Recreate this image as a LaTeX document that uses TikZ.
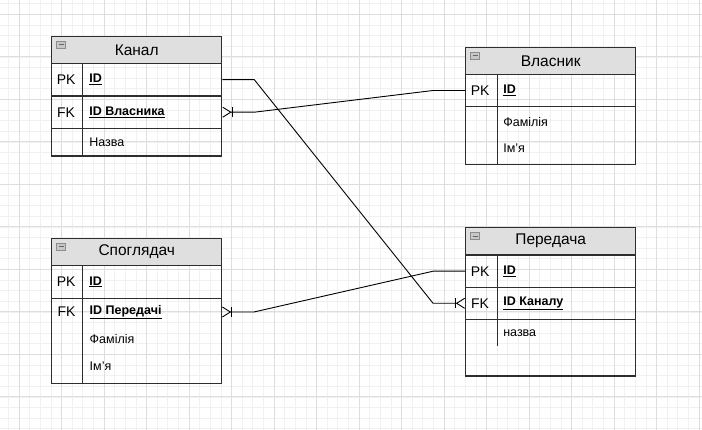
\documentclass[tikz,border=0pt]{standalone}
\usepackage{fontspec}
\setmainfont{Liberation Sans}
\usetikzlibrary{arrows.meta}

\definecolor{gridminor}{HTML}{F1F1F1}
\definecolor{gridmajor}{HTML}{DEDEDE}
\definecolor{headgray}{HTML}{DFDFDF}
\definecolor{framegray}{HTML}{2E2E2E}

\tikzset{
	tabhead/.style={draw=framegray, line width=1.2pt, fill=headgray, minimum width=170pt, minimum height=27pt, inner sep=0pt, font=\fontsize{15.5}{18}\selectfont},
	tabrow/.style={draw=framegray, line width=1.2pt, minimum width=170pt, inner sep=0pt},
	tabline/.style={minimum width=170pt, minimum height=28pt, inner sep=0pt},
	divider/.style={framegray, line width=1.2pt},
	keytext/.style={inner sep=0pt, font=\fontsize{14}{16}\selectfont},
	fieldtext/.style={anchor=west, inner sep=0pt, font=\fontsize{12.5}{15}\selectfont},
	keyfield/.style={anchor=west, inner sep=0pt, font=\fontsize{12.5}{15}\selectfont\bfseries},
	foldicon/.style={draw=black!45, fill=black!22, line width=0.8pt, minimum width=9pt, minimum height=7pt, inner sep=0pt, anchor=north west,
		path picture={\draw[black!60, line width=0.8pt] ([xshift=2pt]path picture bounding box.west) -- ([xshift=-2pt]path picture bounding box.east);}},
	relation/.style={draw=black, line width=0.9pt},
	crow/.tip={Bar[width=10pt] Straight Barb[reversed,length=8pt,width=10pt]}
}

\begin{document}
\begin{tikzpicture}[x=1pt,y=-1pt]
	\useasboundingbox (0,0) rectangle (702,430);
	
	% grid
	\foreach \i in {-2,...,66}
		\draw[gridminor, line width=0.7pt] ({19+10.625*\i},0) -- ({19+10.625*\i},430);
	\foreach \i in {-2,...,40}
		\draw[gridminor, line width=0.7pt] (0,{14.4+10.625*\i}) -- (702,{14.4+10.625*\i});
	\foreach \i in {0,...,16}
		\draw[gridmajor, line width=0.8pt] ({19+42.5*\i},0) -- ({19+42.5*\i},430);
	\foreach \i in {0,...,9}
		\draw[gridmajor, line width=0.8pt] (0,{14.4+42.5*\i}) -- (702,{14.4+42.5*\i});
	
	% Канал
	\node[tabhead] (kanal) at (136.7,50) {Канал};
	\node[foldicon] (kanalicon) at ([shift={(5,5)}]kanal.north west) {};
	\node[tabrow, minimum height=32.7pt] (kanalpk) at (136.7,79.7) {};
	\node[tabrow, minimum height=32.3pt] (kanalfk) at (136.7,112.2) {};
	\node[tabrow, minimum height=27.7pt] (kanalname) at (136.7,142.2) {};
	\draw[divider] ([xshift=31.6pt]kanalpk.north west) -- ([xshift=31.6pt]kanalname.south west);
	\node[keytext] (kanalpkkey) at ([xshift=15pt]kanalpk.west) {PK};
	\node[keyfield] (kanalpkid) at ([xshift=38pt]kanalpk.west) {\underline{ID}};
	\node[keytext] (kanalfkkey) at ([xshift=15pt]kanalfk.west) {FK};
	\node[keyfield] (kanalfkid) at ([xshift=38pt]kanalfk.west) {\underline{ID Власника}};
	\node[fieldtext] (kanalnametxt) at ([xshift=38pt]kanalname.west) {Назва};
	
	% Власник
	\node[tabhead] (vl) at (550.7,60.8) {Власник};
	\node[foldicon] (vlicon) at ([shift={(5,5)}]vl.north west) {};
	\node[tabrow, minimum height=32.4pt] (vlpk) at (550.7,90.5) {};
	\node[tabrow, minimum height=57.6pt] (vlrest) at (550.7,135.5) {};
	\draw[divider] ([xshift=32pt]vlpk.north west) -- ([xshift=32pt]vlrest.south west);
	\node[keytext] (vlpkkey) at ([xshift=15pt]vlpk.west) {PK};
	\node[keyfield] (vlpkid) at ([xshift=38pt]vlpk.west) {\underline{ID}};
	\node[fieldtext] (vlsurname) at ([shift={(38,-13.8)}]vlrest.west) {Фамілія};
	\node[fieldtext] (vlname) at ([shift={(38,12.8)}]vlrest.west) {Ім'я};
	
	% Споглядач
	\node[tabhead] (sp) at (136.7,252) {Споглядач};
	\node[foldicon] (spicon) at ([shift={(5,5)}]sp.north west) {};
	\node[tabrow, minimum height=32.6pt] (sppk) at (136.7,282) {};
	\node[tabrow, minimum height=85pt] (sprest) at (136.7,340.8) {};
	\draw[divider] ([xshift=31.6pt]sppk.north west) -- ([xshift=31.6pt]sprest.south west);
	\node[tabline] (spfk) at (136.7,312) {};
	\node[keytext] (sppkkey) at ([xshift=15pt]sppk.west) {PK};
	\node[keyfield] (sppkid) at ([xshift=38pt]sppk.west) {\underline{ID}};
	\node[keytext] (spfkkey) at ([xshift=15pt]spfk.west) {FK};
	\node[keyfield] (spfkid) at ([xshift=38pt]spfk.west) {\underline{ID Передачі}};
	\node[fieldtext] (spsurname) at ([shift={(38,27.3)}]spfk.west) {Фамілія};
	\node[fieldtext] (spname) at ([shift={(38,54.7)}]spfk.west) {Ім'я};
	
	% Передача
	\node[tabhead] (pd) at (550.7,241.2) {Передача};
	\node[foldicon] (pdicon) at ([shift={(5,5)}]pd.north west) {};
	\node[tabrow, minimum height=32.3pt] (pdpk) at (550.7,271.2) {};
	\node[tabrow, minimum height=32pt] (pdfk) at (550.7,303.3) {};
	\node[tabrow, minimum height=56.7pt] (pdrest) at (550.7,347.7) {};
	\draw[divider] ([xshift=32pt]pdpk.north west) -- ([shift={(32,27.4)}]pdrest.north west);
	\node[keytext] (pdpkkey) at ([xshift=15pt]pdpk.west) {PK};
	\node[keyfield] (pdpkid) at ([xshift=38pt]pdpk.west) {\underline{ID}};
	\node[keytext] (pdfkkey) at ([xshift=15pt]pdfk.west) {FK};
	\node[keyfield] (pdfkid) at ([xshift=38pt]pdfk.west) {\underline{ID Каналу}};
	\node[fieldtext] (pdtitle) at ([shift={(38,14.3)}]pdrest.north west) {назва};
	
	% relations
	\draw[relation, crow-] (kanalfk.east) -- ++(32,0) -- ([xshift=-32pt]vlpk.west) -- (vlpk.west);
	\draw[relation, -crow] (kanalpk.east) -- ++(32,0) -- ([xshift=-32pt]pdfk.west) -- (pdfk.west);
	\draw[relation, crow-] (spfk.east) -- ++(32,0) -- ([xshift=-32pt]pdpk.west) -- (pdpk.west);
	
\end{tikzpicture}
\end{document}
